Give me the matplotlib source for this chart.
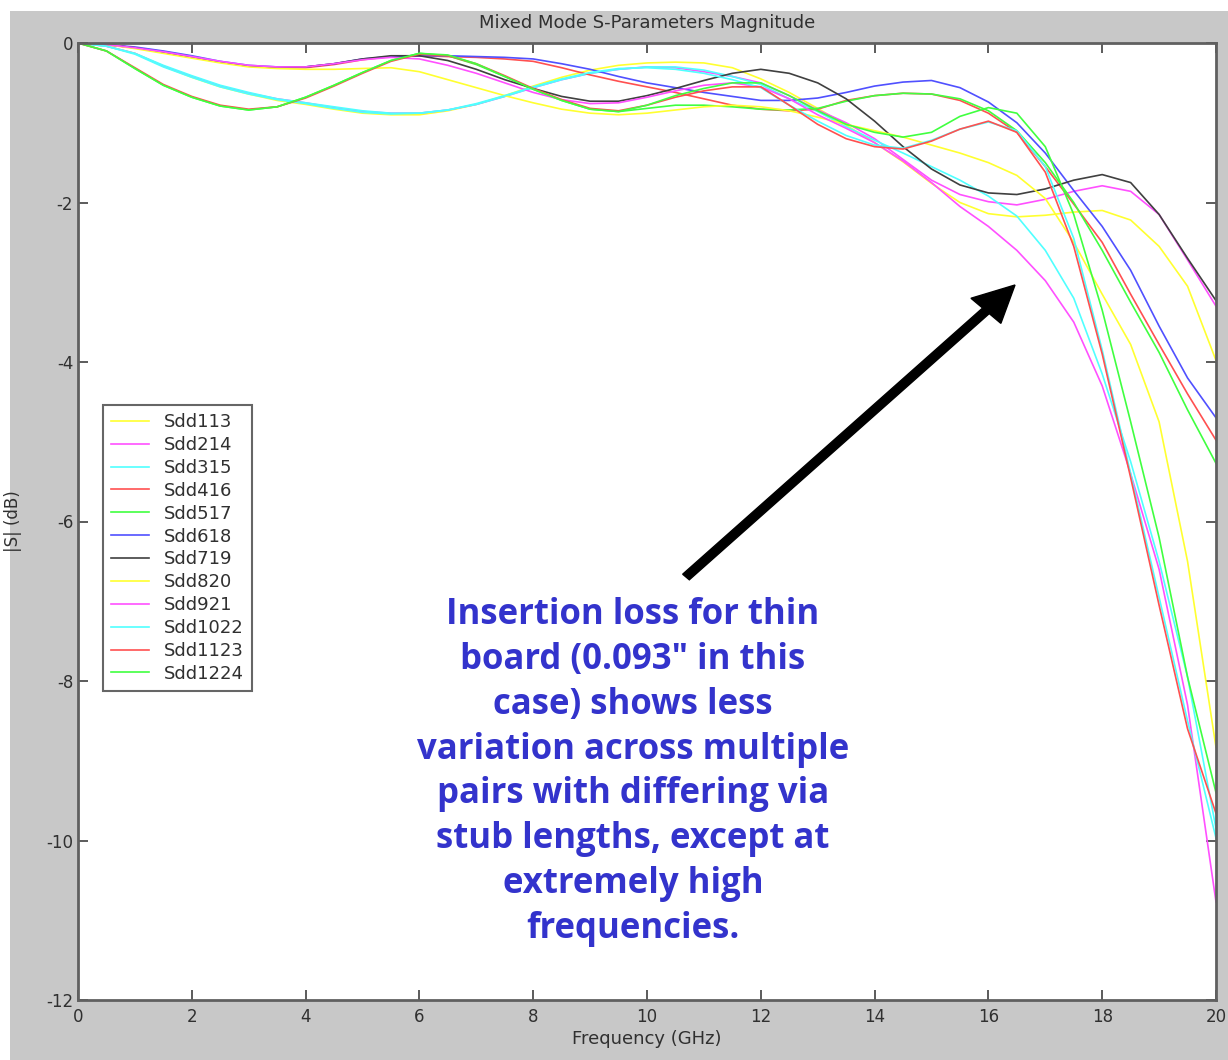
import numpy as np
import matplotlib
matplotlib.use("Agg")
import matplotlib.pyplot as plt
from matplotlib.patches import Rectangle, FancyArrow

plt.rcParams['font.family'] = 'DejaVu Sans'
plt.rcParams['axes.unicode_minus'] = False

# frequency grid (GHz), every 0.5 GHz from 0 to 20
freq = np.arange(0, 20.5, 0.5)

labels = ['Sdd113', 'Sdd214', 'Sdd315', 'Sdd416', 'Sdd517', 'Sdd618',
          'Sdd719', 'Sdd820', 'Sdd921', 'Sdd1022', 'Sdd1123', 'Sdd1224']

# MATLAB-ish default line colour cycle (y m c r g b k)
colors = ['#ffff30', '#ff50ff', '#50ffff', '#ff5050', '#40ff40', '#5050ff',
          '#404040', '#ffff30', '#ff50ff', '#50ffff', '#ff5050', '#40ff40']

# |S| in dB
sdd113 = [0, -0.04, -0.13, -0.29, -0.43, -0.55, -0.64, -0.72, -0.77, -0.83, -0.88,
          -0.9, -0.9, -0.85, -0.77, -0.66, -0.54, -0.43, -0.34, -0.28, -0.25,
          -0.24, -0.25, -0.31, -0.45, -0.62, -0.82, -1.03, -1.25, -1.49, -1.76,
          -2.0, -2.14, -2.18, -2.16, -2.12, -2.1, -2.22, -2.55, -3.05, -3.98]
sdd214 = [0, -0.04, -0.13, -0.29, -0.42, -0.54, -0.63, -0.7, -0.75, -0.81, -0.86,
          -0.88, -0.88, -0.84, -0.77, -0.67, -0.56, -0.46, -0.38, -0.33, -0.3,
          -0.31, -0.36, -0.42, -0.5, -0.66, -0.84, -1.0, -1.2, -1.46, -1.72,
          -1.9, -1.99, -2.03, -1.96, -1.86, -1.79, -1.86, -2.15, -2.72, -3.3]
sdd315 = [0, -0.04, -0.13, -0.28, -0.41, -0.53, -0.62, -0.7, -0.75, -0.8, -0.85,
          -0.88, -0.88, -0.84, -0.77, -0.67, -0.56, -0.46, -0.38, -0.33, -0.3,
          -0.3, -0.34, -0.42, -0.52, -0.7, -0.86, -1.05, -1.22, -1.38, -1.55,
          -1.72, -1.92, -2.17, -2.6, -3.2, -4.15, -5.25, -6.5, -7.95, -9.85]
sdd416 = [0, -0.02, -0.06, -0.11, -0.17, -0.24, -0.29, -0.31, -0.31, -0.27, -0.21,
          -0.17, -0.16, -0.17, -0.18, -0.2, -0.23, -0.31, -0.4, -0.48, -0.55,
          -0.62, -0.7, -0.78, -0.83, -0.85, -0.83, -0.72, -0.66, -0.63, -0.64,
          -0.72, -0.88, -1.12, -1.55, -2.02, -2.5, -3.15, -3.78, -4.4, -4.98]
sdd517 = [0, -0.1, -0.32, -0.53, -0.68, -0.79, -0.84, -0.8, -0.68, -0.53, -0.37,
          -0.22, -0.13, -0.16, -0.27, -0.42, -0.58, -0.72, -0.83, -0.86, -0.82,
          -0.78, -0.78, -0.8, -0.83, -0.84, -0.82, -0.73, -0.66, -0.63, -0.64,
          -0.7, -0.85, -1.1, -1.5, -2.0, -2.6, -3.25, -3.88, -4.6, -5.27]
sdd618 = [0, -0.02, -0.05, -0.1, -0.16, -0.23, -0.28, -0.3, -0.3, -0.26, -0.2,
          -0.17, -0.16, -0.16, -0.17, -0.18, -0.2, -0.26, -0.33, -0.42, -0.5,
          -0.56, -0.62, -0.67, -0.72, -0.72, -0.69, -0.62, -0.54, -0.49, -0.47,
          -0.56, -0.74, -1.0, -1.38, -1.85, -2.3, -2.85, -3.55, -4.2, -4.7]
sdd719 = [0, -0.02, -0.06, -0.12, -0.18, -0.24, -0.29, -0.31, -0.3, -0.26, -0.2,
          -0.16, -0.16, -0.22, -0.33, -0.46, -0.57, -0.67, -0.73, -0.73, -0.66,
          -0.57, -0.47, -0.38, -0.33, -0.38, -0.5, -0.7, -0.98, -1.3, -1.58,
          -1.78, -1.88, -1.9, -1.83, -1.72, -1.65, -1.75, -2.15, -2.7, -3.23]
sdd820 = [0, -0.02, -0.07, -0.13, -0.19, -0.25, -0.3, -0.32, -0.33, -0.33, -0.32,
          -0.31, -0.36, -0.46, -0.56, -0.66, -0.75, -0.83, -0.88, -0.9, -0.88,
          -0.84, -0.8, -0.78, -0.8, -0.85, -0.93, -1.02, -1.1, -1.18, -1.28,
          -1.38, -1.5, -1.66, -1.95, -2.5, -3.15, -3.78, -4.75, -6.5, -8.83]
sdd921 = [0, -0.02, -0.06, -0.11, -0.17, -0.23, -0.28, -0.3, -0.3, -0.26, -0.21,
          -0.18, -0.2, -0.28, -0.38, -0.5, -0.62, -0.71, -0.76, -0.75, -0.68,
          -0.6, -0.53, -0.5, -0.55, -0.7, -0.9, -1.07, -1.25, -1.48, -1.75,
          -2.05, -2.3, -2.6, -2.98, -3.5, -4.3, -5.4, -6.6, -8.3, -10.77]
sdd1022 = [0, -0.04, -0.14, -0.3, -0.43, -0.55, -0.64, -0.71, -0.76, -0.82, -0.87,
           -0.89, -0.88, -0.84, -0.76, -0.66, -0.55, -0.45, -0.37, -0.32, -0.31,
           -0.33, -0.38, -0.46, -0.56, -0.78, -0.98, -1.16, -1.28, -1.32, -1.22,
           -1.08, -0.99, -1.1, -1.55, -2.45, -3.85, -5.4, -6.95, -8.5, -9.97]
sdd1123 = [0, -0.1, -0.31, -0.52, -0.67, -0.78, -0.83, -0.8, -0.69, -0.54, -0.38,
           -0.23, -0.14, -0.16, -0.26, -0.41, -0.57, -0.71, -0.82, -0.85, -0.78,
           -0.68, -0.6, -0.55, -0.55, -0.78, -1.02, -1.2, -1.3, -1.33, -1.23,
           -1.08, -0.98, -1.12, -1.62, -2.55, -3.9, -5.45, -7.05, -8.6, -9.66]
sdd1224 = [0, -0.1, -0.32, -0.53, -0.68, -0.79, -0.84, -0.8, -0.68, -0.53, -0.37,
           -0.22, -0.13, -0.15, -0.26, -0.42, -0.58, -0.72, -0.83, -0.86, -0.78,
           -0.66, -0.57, -0.5, -0.5, -0.66, -0.85, -1.02, -1.12, -1.18, -1.12,
           -0.92, -0.81, -0.88, -1.3, -2.15, -3.35, -4.75, -6.2, -7.95, -9.4]

series = [sdd113, sdd214, sdd315, sdd416, sdd517, sdd618,
          sdd719, sdd820, sdd921, sdd1022, sdd1123, sdd1224]

note = ("Insertion loss for thin\nboard (0.093\u2033 in this\ncase) shows less\n"
        "variation across multiple\npairs with differing via\nstub lengths, except at\n"
        "extremely high\nfrequencies.")

W, H = 1228, 1060
fig = plt.figure(figsize=(W / 100, H / 100), dpi=100, facecolor='white')
# grey MATLAB figure area, with a thin white strip at top and left
fig.patches.append(Rectangle((10 / W, 0), 1, 1 - 11 / H, transform=fig.transFigure,
                             facecolor='#c8c8c8', edgecolor='none', zorder=-10))

ax = fig.add_axes([78 / W, 60 / H, (1216 - 78) / W, (1000 - 43) / H], zorder=1)
ax.set_facecolor('white')

for vals, lab, col in zip(series, labels, colors):
    ax.plot(freq, vals, color=col, lw=1.2, label=lab)

ax.set_xlim(0, 20)
ax.set_ylim(-12, 0)
ax.set_xticks(range(0, 21, 2))
ax.set_yticks(range(-12, 1, 2))
ax.tick_params(direction='in', length=7, width=1.2, colors='#404040',
               labelsize=12, labelcolor='#303030', top=True, right=True)
ax.tick_params(axis='x', pad=6)
for sp in ax.spines.values():
    sp.set_color('#606060')
    sp.set_linewidth(2)

ax.set_title('Mixed Mode S-Parameters Magnitude', fontsize=13, color='#303030', pad=11)
ax.set_xlabel('Frequency (GHz)', fontsize=13, color='#303030', labelpad=3)
ax.set_ylabel('|S| (dB)', fontsize=12, color='#303030')
ax.yaxis.set_label_coords(-(78 - 22) / 1138, 0.5)

leg = ax.legend(loc='upper left', bbox_to_anchor=(25 / 1138, (1000 - 405) / 957),
                borderaxespad=0, fontsize=13, frameon=True, fancybox=False,
                handlelength=2.1, handletextpad=0.8, labelspacing=0.27,
                borderpad=0.45)
leg.get_frame().set_edgecolor('#404040')
leg.get_frame().set_linewidth(1.5)
for t in leg.get_texts():
    t.set_color('#303030')

fig.text(633 / W, 1 - 772 / H, note, ha='center', va='center', multialignment='center',
         fontsize=25, fontweight='bold', family=['Open Sans', 'DejaVu Sans'],
         color='#3333cc', linespacing=1.33, zorder=5)

fig.add_artist(FancyArrow(
    686 / W, 1 - 577 / H, (1015 - 686) / W, (577 - 285) / H,
    width=8 / H, head_width=36 / H, head_length=36 / H,
    length_includes_head=True, transform=fig.transFigure,
    facecolor='black', edgecolor='black', zorder=5))

fig.savefig('out.png', dpi=100, facecolor=fig.get_facecolor())
